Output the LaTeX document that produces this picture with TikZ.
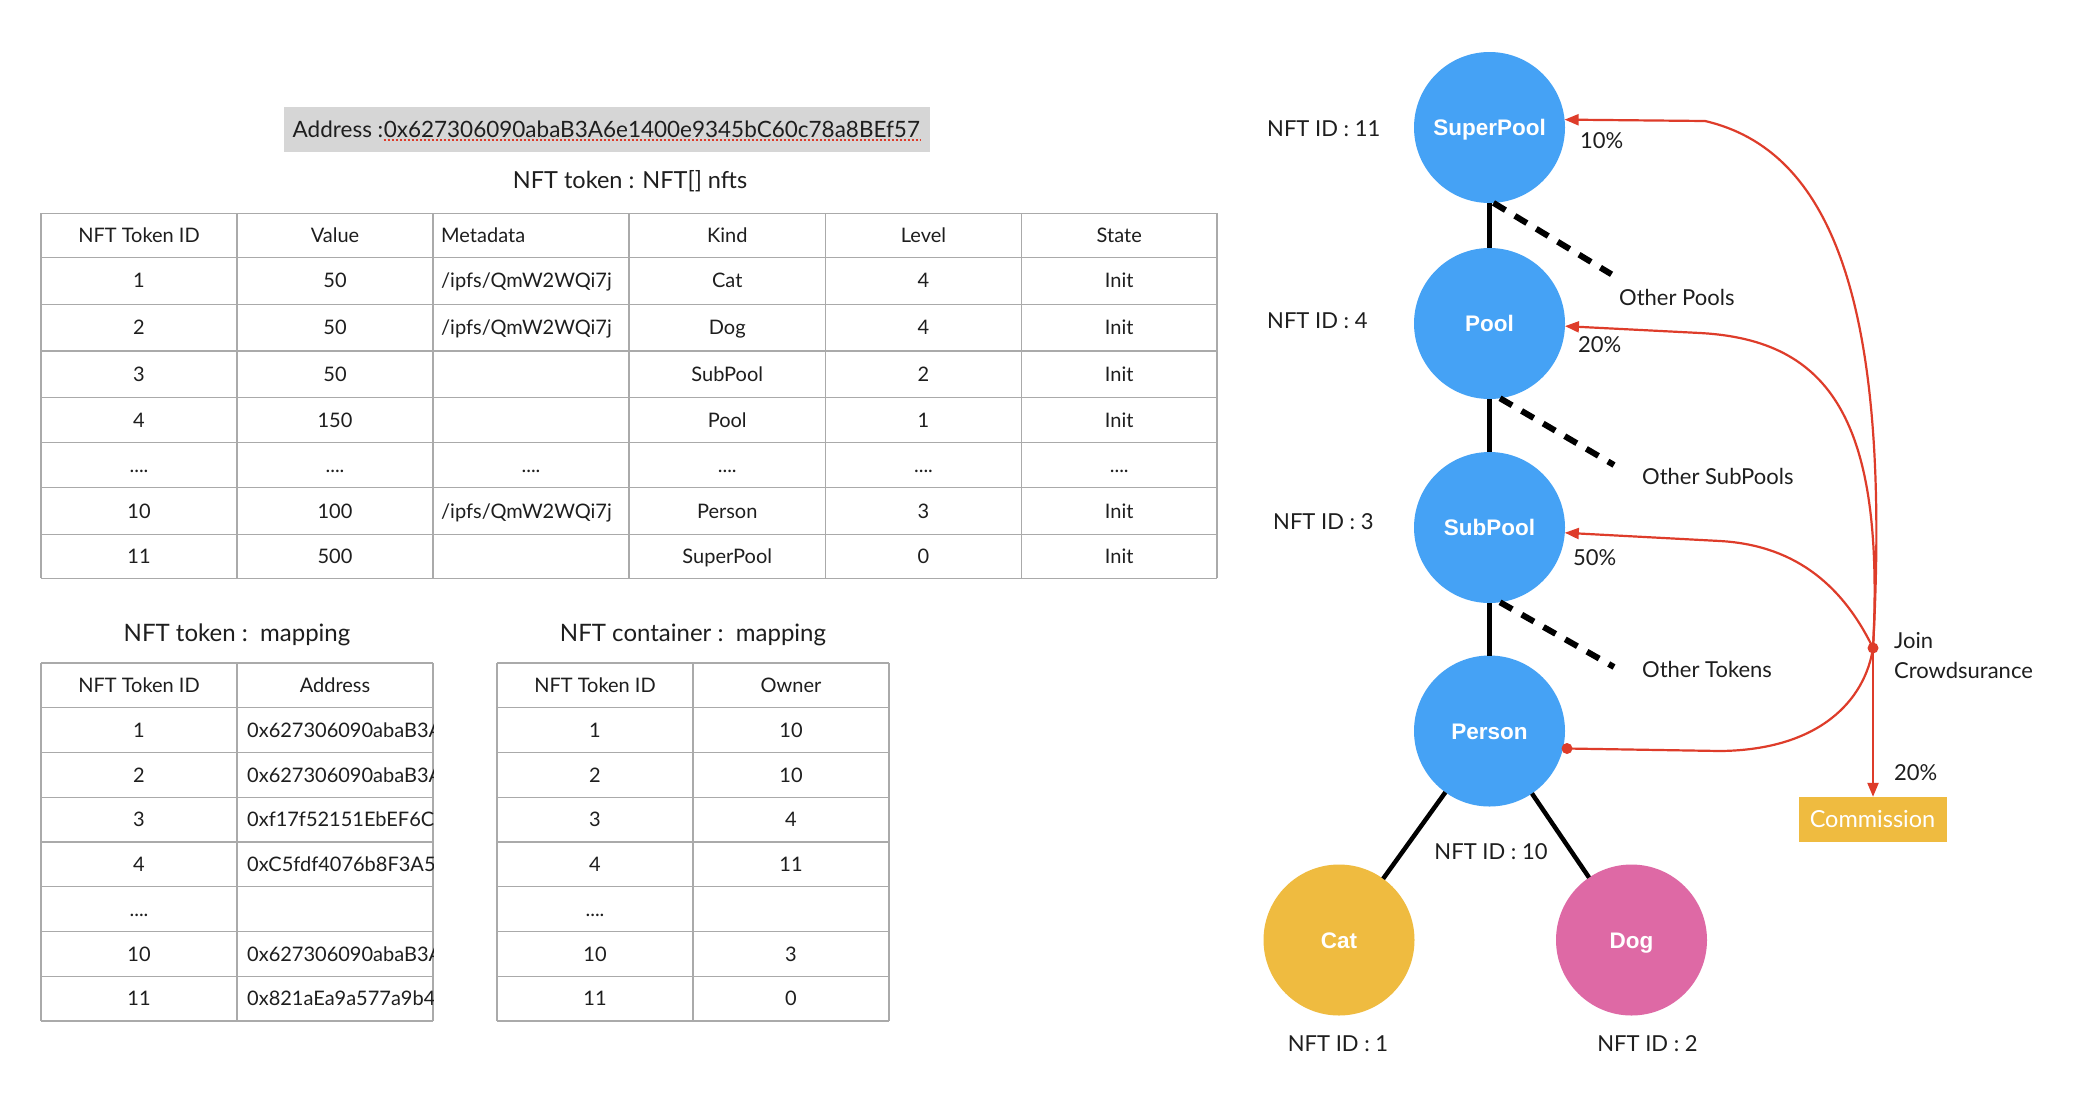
\documentclass[tikz,border=0pt]{standalone}
\usepackage{fontspec}
\setmainfont{Lato}
\newfontfamily\circfont{Liberation Sans}
\usetikzlibrary{arrows.meta,calc}
\definecolor{nodeblue}{RGB}{69,162,245}
\definecolor{catyellow}{RGB}{239,187,64}
\definecolor{dogpink}{RGB}{222,105,165}
\definecolor{linered}{RGB}{222,60,42}
\definecolor{rulegray}{RGB}{170,170,170}
\definecolor{boxgray}{RGB}{214,214,214}
\definecolor{inkblack}{RGB}{30,30,30}
\newcommand\qdots{....}
\begin{document}
\begin{tikzpicture}[x=1pt,y=-1pt,
  tablerule/.style={draw=rulegray,line width=1.4pt},
  tcell/.style={font=\fontsize{20}{23}\selectfont,inner sep=0pt,text height=14.3pt,text depth=0pt,text=inkblack},
  ttl/.style={font=\fontsize{22}{26}\selectfont,inner sep=0pt,text height=15.8pt,text depth=0pt,text=inkblack},
  bigttl/.style={ttl,font=\fontsize{24}{28}\selectfont,text height=17.2pt},
  lbl/.style={ttl,anchor=west},
  tok/.style={circle,minimum size=151pt,inner sep=0pt,outer sep=0pt,font=\circfont\bfseries\fontsize{22.5}{26}\selectfont,text=white,text height=16.1pt,text depth=0pt},
  tree/.style={line width=4.5pt,draw=black},
  dashln/.style={line width=6pt,draw=black,dash pattern=on 14pt off 11pt},
  redln/.style={draw=linered,line width=2.2pt},
  redarr/.style={redln,-{Triangle[length=14pt,width=11pt]}},
  reddot/.style={circle,fill=linered,minimum size=11pt,inner sep=0pt},
]
\useasboundingbox (0,0) rectangle (2078,1104);
\fill[white] (0,0) rectangle (2078,1104);

% ---------- address header ----------
\node[fill=boxgray,minimum width=646pt,minimum height=45pt,inner sep=0pt] (addrbox) at (607,129.5) {};
\node[ttl,font=\fontsize{22.5}{26}\selectfont,anchor=base west] (addrlbl) at (292.5,137) {Address :};
\node[ttl,font=\fontsize{22.5}{26}\selectfont,anchor=base west] (addrhex) at (addrlbl.base east) {0x627306090abaB3A6e1400e9345bC60c78a8BEf57};
\draw[linered,line width=2pt,dash pattern=on 2pt off 2pt] ($(addrhex.base west)+(0,3)$) -- ($(addrhex.base east)+(0,3)$);
\node[bigttl,font=\fontsize{23.5}{28}\selectfont] (maintitle) at (630,180) {NFT token : NFT[] nfts};

% ---------- main table ----------
\foreach \yy in {213.3,257.3,304.3,351,397.3,442.7,487.7,534.3,578.3}
  \draw[tablerule] (41,\yy) -- (1217,\yy);
\foreach \xx in {41,237,433,629,825.5,1021.5,1217}
  \draw[tablerule] (\xx,213.3) -- (\xx,578.3);
\foreach \r/\yy/\ca/\cb/\cd/\ce/\cf in {
  0/235.3/NFT Token ID/Value/Kind/Level/State,
  1/280.8/1/50/Cat/4/Init,
  2/327.7/2/50/Dog/4/Init,
  3/374.2/3/50/SubPool/2/Init,
  4/420/4/150/Pool/1/Init,
  5/465.2/\qdots/\qdots/\qdots/\qdots/\qdots,
  6/511/10/100/Person/3/Init,
  7/556.3/11/500/SuperPool/0/Init}{
  \node[tcell] (nft-\r-a) at (139,\yy) {\ca};
  \node[tcell] (nft-\r-b) at (335,\yy) {\cb};
  \node[tcell] (nft-\r-d) at (727.25,\yy) {\cd};
  \node[tcell] (nft-\r-e) at (923.5,\yy) {\ce};
  \node[tcell] (nft-\r-f) at (1119.25,\yy) {\cf};
}
\begin{scope}
  \clip (433,213.3) rectangle (629,578.3);
  \node[tcell,anchor=west] (nft-0-c) at (441,235.3) {Metadata};
  \node[tcell,anchor=west] (nft-1-c) at (441,280.8) {/ipfs/QmW2WQi7j};
  \node[tcell,anchor=west] (nft-2-c) at (441,327.7) {/ipfs/QmW2WQi7j};
  \node[tcell] (nft-5-c) at (531,465.2) {\qdots};
  \node[tcell,anchor=west] (nft-6-c) at (441,511) {/ipfs/QmW2WQi7j};
\end{scope}

% ---------- mapping tables ----------
\node[bigttl] (maptitle) at (237,633) {NFT token :\ \ mapping};
\node[bigttl] (conttitle) at (693,633) {NFT container :\ \ mapping};
\foreach \k in {0,1,2,3,4,5,6,7,8}{
  \draw[tablerule] (41,{663+44.75*\k}) -- (433,{663+44.75*\k});
  \draw[tablerule] (497,{663+44.75*\k}) -- (889,{663+44.75*\k});
}
\foreach \xx in {41,237,433,497,693,889}
  \draw[tablerule] (\xx,663) -- (\xx,1021);
\foreach \r/\ca/\cb in {0/NFT Token ID/Owner,1/1/10,2/2/10,3/3/4,4/4/11,5/\qdots/{},6/10/3,7/11/0}{
  \node[tcell] (map-\r-a) at (139,{685.4+44.75*\r}) {\ca};
  \node[tcell] (cont-\r-a) at (595,{685.4+44.75*\r}) {\ca};
  \node[tcell] (cont-\r-b) at (791,{685.4+44.75*\r}) {\cb};
}
\node[tcell] (map-0-b) at (335,685.4) {Address};
\begin{scope}
  \clip (237,663) rectangle (433,1021);
  \foreach \r/\addr in {1/0x627306090abaB3A6,
                        2/0x627306090abaB3A6,
                        3/0xf17f52151EbEF6C7,
                        4/0xC5fdf4076b8F3A53,
                        6/0x627306090abaB3A6,
                        7/0x821aEa9a577a9b44}
    \node[tcell,anchor=west] (map-\r-b) at (247,{685.4+44.75*\r}) {\addr};
\end{scope}

% ---------- token tree ----------
\node[tok,fill=nodeblue] (sp) at (1489.5,127.5) {SuperPool};
\node[tok,fill=nodeblue] (pool) at (1489.5,323.5) {Pool};
\node[tok,fill=nodeblue] (sub) at (1489.5,527.5) {SubPool};
\node[tok,fill=nodeblue] (person) at (1489.5,731) {Person};
\node[tok,fill=catyellow] (cat) at (1339,940) {Cat};
\node[tok,fill=dogpink] (dog) at (1631.5,940) {Dog};

\draw[tree] (sp) -- (pool);
\draw[tree] (pool) -- (sub);
\draw[tree] (sub) -- (person);
\draw[tree] (person) -- (cat);
\draw[tree] (person) -- (dog);

\coordinate (opEnd) at (1611.5,274.3);
\coordinate (ospEnd) at (1614,465);
\coordinate (otEnd) at (1614,667);
\draw[dashln] (sp.-87) -- (opEnd);
\draw[dashln] (pool.-82) -- (ospEnd);
\draw[dashln] (sub.-82) -- (otEnd);

\node[lbl] (id11) at (1267,129) {NFT ID : 11};
\node[lbl] (id4) at (1267,321) {NFT ID : 4};
\node[lbl] (id3) at (1273,522) {NFT ID : 3};
\node[ttl] (id10) at (1491,851.7) {NFT ID : 10};
\node[ttl] (id1) at (1338,1044) {NFT ID : 1};
\node[ttl] (id2) at (1647.5,1044) {NFT ID : 2};
\node[lbl] (p10) at (1580,141) {10\%};
\node[lbl] (p20a) at (1578,345) {20\%};
\node[lbl] (p50) at (1573,558) {50\%};
\node[lbl] (op) at (1619,298) {Other Pools};
\node[lbl] (osp) at (1642,476.5) {Other SubPools};
\node[lbl] (ot) at (1642,669.5) {Other Tokens};
\node[lbl] (join) at (1894,640.7) {Join};
\node[lbl] (crowd) at (1894,670.5) {Crowdsurance};
\node[lbl] (p20b) at (1894,773) {20\%};
\node[fill=catyellow,minimum width=148pt,minimum height=45pt,inner sep=0pt,text=white,
      font=\fontsize{23.5}{27}\selectfont,text height=16.8pt,text depth=0pt] (comm) at (1872.5,819.5) {Commission};

% ---------- red flows ----------
\node[reddot] (jn) at (1873,648) {};
\node[reddot] (pdot) at (1567,748.5) {};
\draw[redarr] (jn.center) .. controls (1892,300) and (1830,150) .. (1705,121) -- (sp.6);
\draw[redarr] (jn.center) .. controls (1885,420) and (1830,340) .. (1700,333) -- (pool.-2);
\draw[redarr] (jn.center) .. controls (1840,580) and (1790,545) .. (1720,541) -- (sub.-4);
\draw[redln] (pdot.center) -- (1720,751) .. controls (1820,750) and (1865,700) .. (jn.center);
\draw[redarr] (jn.center) -- (jn.center |- comm.north);
\end{tikzpicture}
\end{document}
